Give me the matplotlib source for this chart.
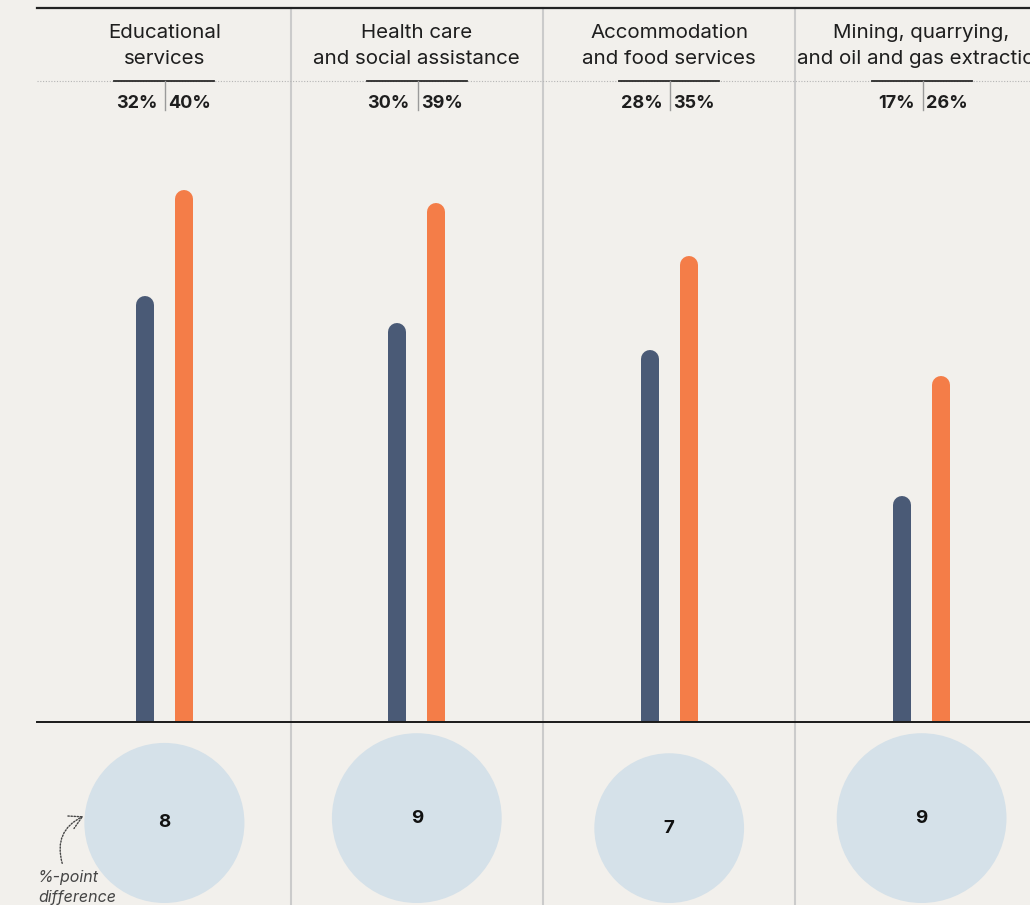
import matplotlib.pyplot as plt
import numpy as np
from matplotlib.patches import Circle, FancyArrowPatch

# data
industries = ["Educational\nservices", "Health care\nand social assistance",
              "Accommodation\nand food services", "Mining, quarrying,\nand oil and gas extraction"]
share_a = [32, 30, 28, 17]   # dark bars
share_b = [40, 39, 35, 26]   # orange bars
diff = [8, 9, 7, 9]

BG = "#f2f0ec"
DARK = "#4a5a76"
ORANGE = "#f47d48"
BUBBLE = "#d5e1e9"
FONT = "Inter"

W, H = 1030, 905
fig = plt.figure(figsize=(W / 100, H / 100), dpi=100, facecolor=BG)

# layout in pixels
left = 38.2
panel_w = 252.4
base_y = 722
top_y = 8
px_per_pct = 13.3

# bar axes (y in percent)
ax = fig.add_axes([left / W, (H - base_y) / H, 4 * panel_w / W, (base_y - top_y) / H])
ax.set_xlim(0, 4)
ax.set_ylim(0, (base_y - top_y) / px_per_pct)
ax.axis("off")
ax.patch.set_alpha(0)

off = 19.5 / panel_w
cap = 9 / px_per_pct
lw = 18 * 0.72
x = np.arange(4) + 0.5
for xi, a, b in zip(x, share_a, share_b):
    ax.plot([xi - off, xi - off], [0, a - cap], color=DARK, lw=lw, solid_capstyle="round")
    ax.plot([xi + off, xi + off], [0, b - cap], color=ORANGE, lw=lw, solid_capstyle="round")

# overlay in pixel coords for decoration and bubbles
ov = fig.add_axes([0, 0, 1, 1])
ov.set_xlim(0, W)
ov.set_ylim(H, 0)
ov.axis("off")
ov.patch.set_alpha(0)

ov.plot([37, W], [top_y, top_y], color="#222222", lw=1.6)
ov.plot([37, W], [81, 81], color="#b5b5b5", lw=0.8, ls=(0, (1, 1.5)))
ov.plot([37, W], [base_y, base_y], color="#1a1a1a", lw=1.4)
for i in range(1, 4):
    xd = left + i * panel_w
    ov.plot([xd, xd], [top_y, H], color="#cbcbcb", lw=1.5, zorder=0)

for i, name in enumerate(industries):
    cx = left + (i + 0.5) * panel_w
    ov.text(cx, 46, name, ha="center", va="center", fontsize=14.8, family=FONT,
            color="#1e1e1e", linespacing=1.5)
    ov.plot([cx - 50, cx + 50], [81, 81], color="#2a2a2a", lw=1.3)
    ov.plot([cx + 1, cx + 1], [81, 110], color="#9a9a9a", lw=1.0)
    ov.text(cx - 7, 103, f"{share_a[i]}%", ha="right", va="center", fontsize=13,
            family=FONT, weight="bold", color="#1e1e1e")
    ov.text(cx + 4, 103, f"{share_b[i]}%", ha="left", va="center", fontsize=13,
            family=FONT, weight="bold", color="#1e1e1e")
    r = 28.3 * np.sqrt(diff[i])
    cy = 903 - r
    ov.add_patch(Circle((cx, cy), r, color=BUBBLE, lw=0, zorder=1))
    ov.text(cx, cy, str(diff[i]), ha="center", va="center", fontsize=13.5,
            family=FONT, weight="bold", color="#111111", zorder=2)

ov.text(38, 877, "%-point", ha="left", va="center", fontsize=11.5, style="italic",
        family=FONT, color="#444444", zorder=3)
ov.text(38, 897, "difference", ha="left", va="center", fontsize=11.5, style="italic",
        family=FONT, color="#444444", zorder=3)
arr = FancyArrowPatch((63, 866), (86, 815), connectionstyle="arc3,rad=-0.45",
                      arrowstyle="->,head_length=9,head_width=5", color="#444444",
                      lw=1.0, ls=(0, (1, 1.2)), zorder=3)
ov.add_patch(arr)

fig.savefig("out.png", dpi=100, facecolor=BG)
